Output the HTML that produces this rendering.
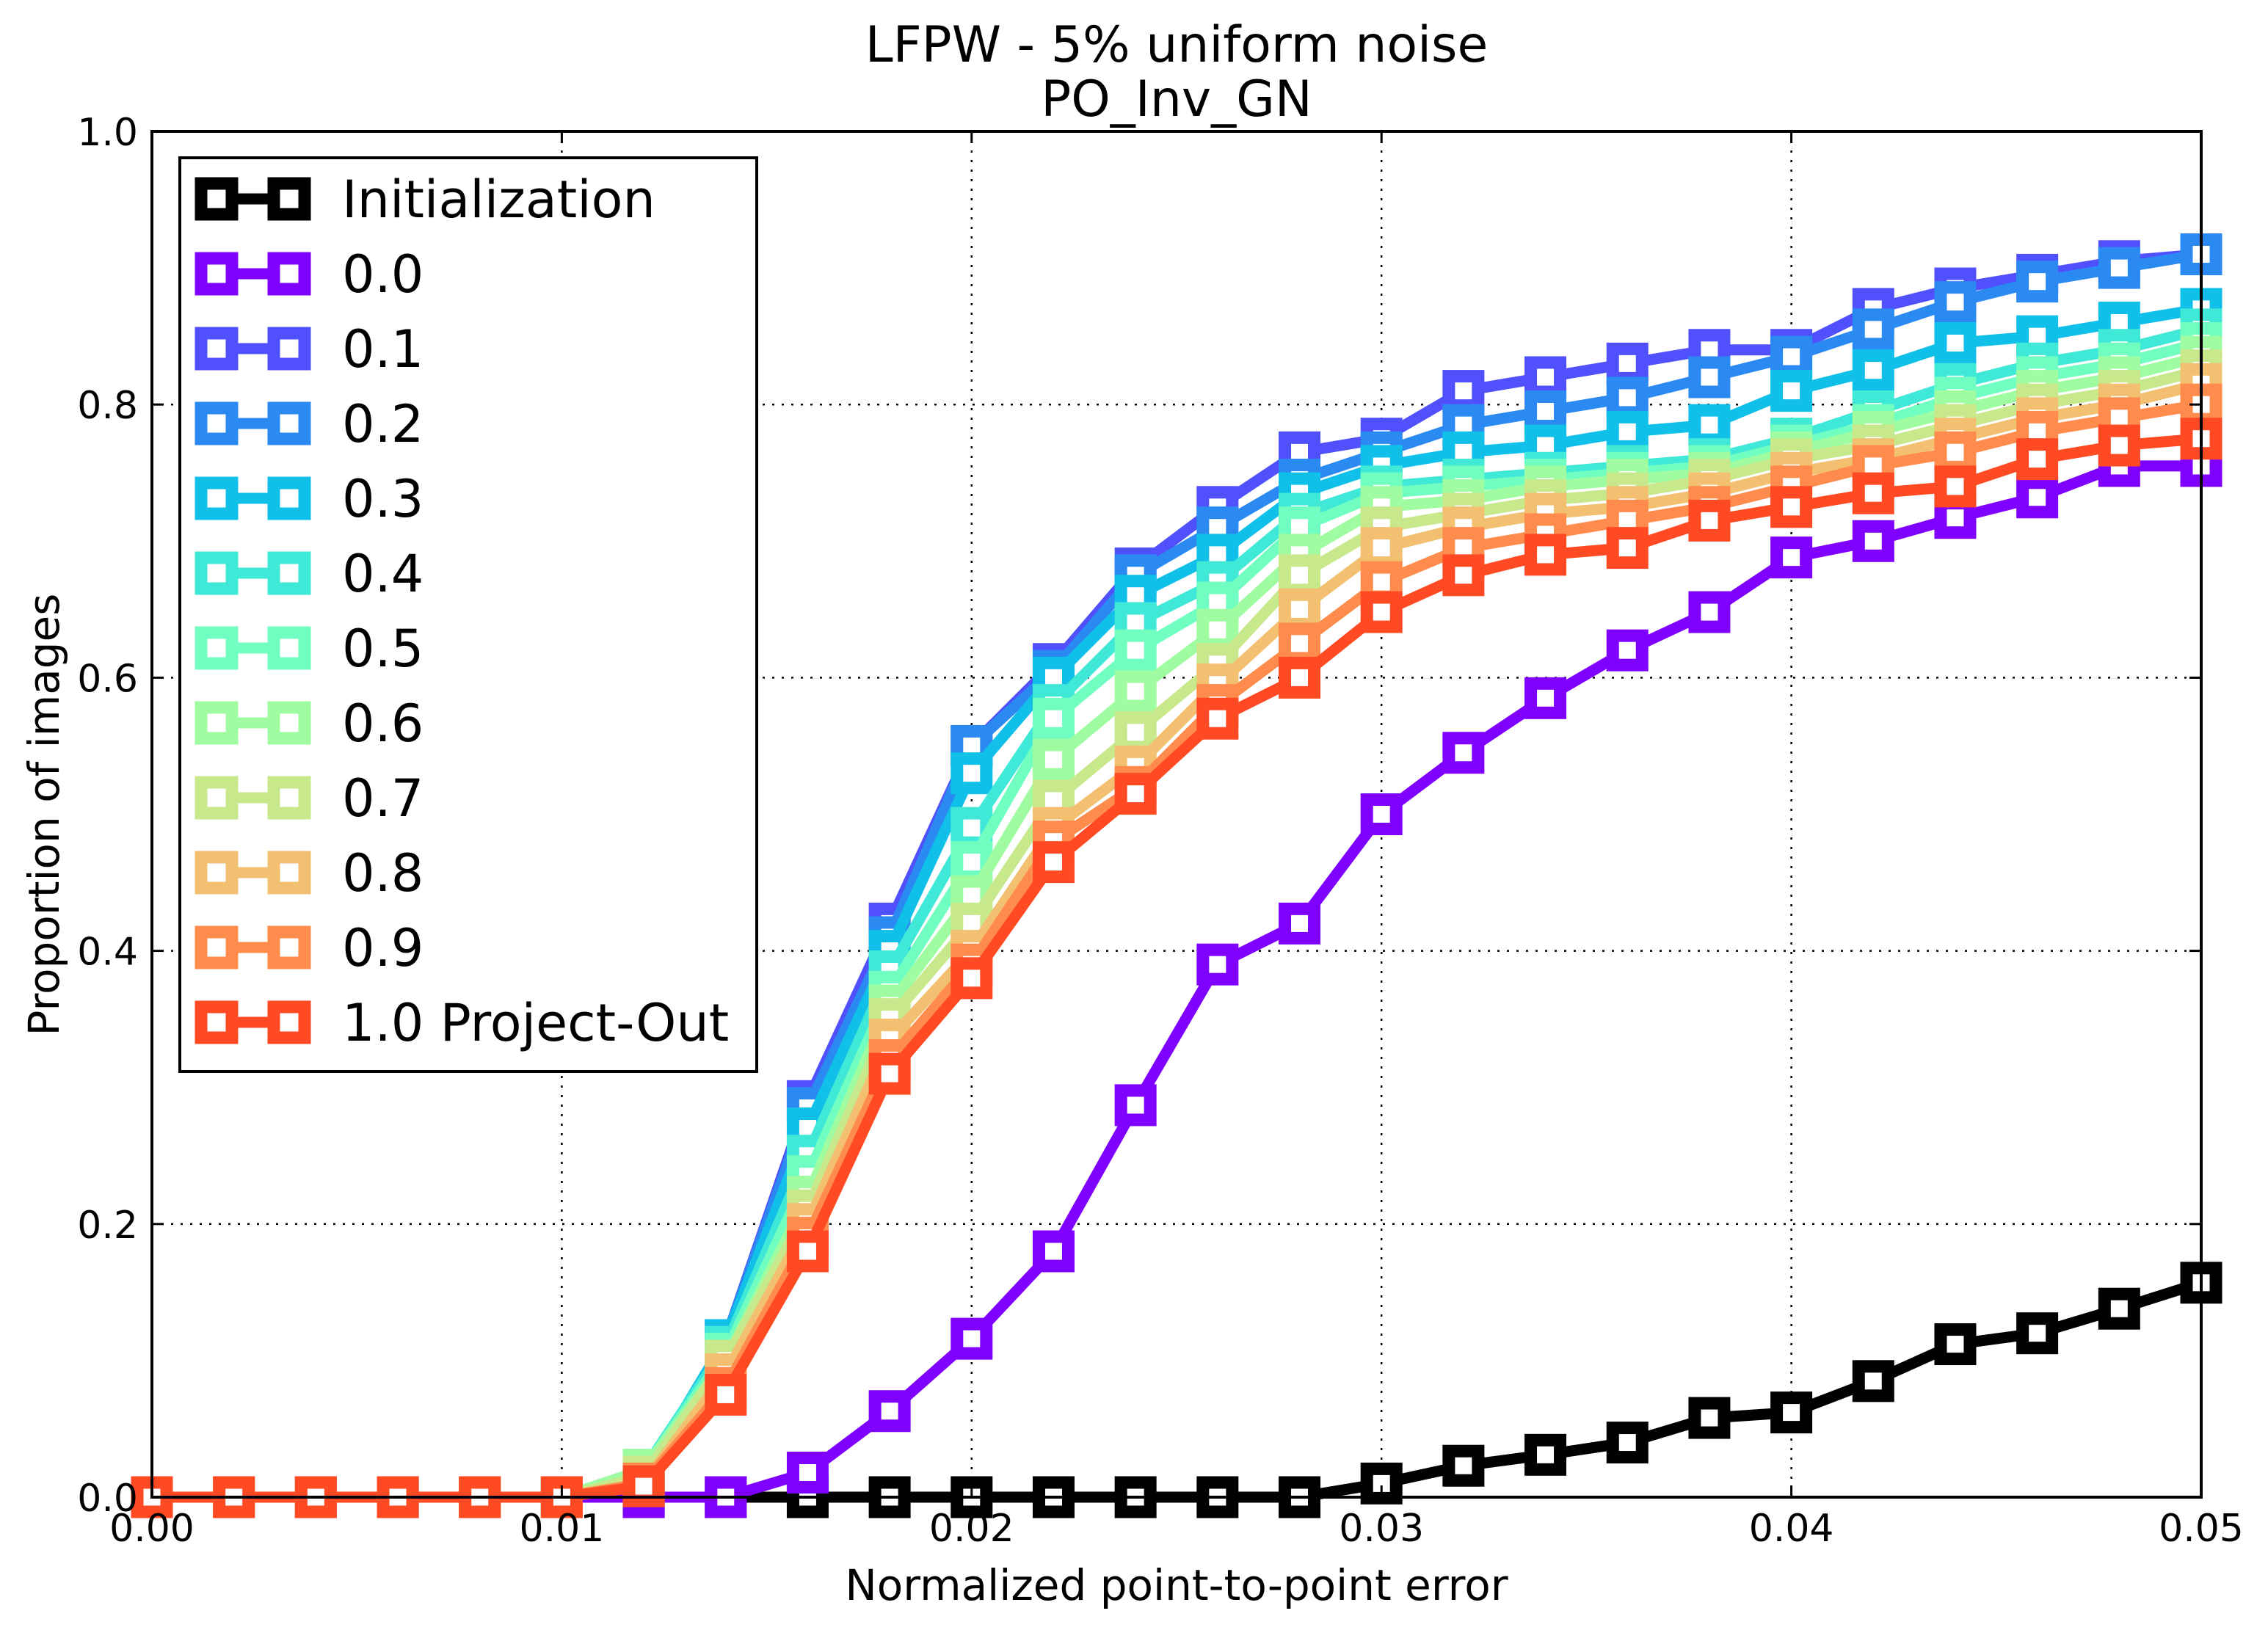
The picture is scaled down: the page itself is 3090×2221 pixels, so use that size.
<!DOCTYPE html>
<html><head><meta charset="utf-8"><style>
html,body{margin:0;padding:0;background:#fff}
svg{display:block}
text{font-family:"DejaVu Sans","Liberation Sans",sans-serif;fill:#000}
</style></head><body>
<svg id="chart" width="3090" height="2221" viewBox="0 0 3090 2221" xmlns="http://www.w3.org/2000/svg">
<rect x="0" y="0" width="3090" height="2221" fill="#fff"/>
<text x="1603" y="84" font-size="68" text-anchor="middle">LFPW - 5% uniform noise</text>
<text x="1603" y="158" font-size="68" text-anchor="middle">PO_Inv_GN</text>
<g id="grid"></g>
<g id="series"></g>
<rect x="207" y="179" width="2792" height="1861" fill="none" stroke="#000" stroke-width="4"/>
<g id="ticks"></g>
<text x="1603" y="2180" font-size="58" text-anchor="middle">Normalized point-to-point error</text>
<text x="0" y="0" font-size="58" text-anchor="middle" transform="translate(80,1110) rotate(-90)">Proportion of images</text>
<g id="legend"></g>
</svg>
<script>
const xValues = [0,0.002,0.004,0.006,0.008,0.010,0.012,0.014,0.016,0.018,0.020,0.022,0.024,0.026,0.028,0.030,0.032,0.034,0.036,0.038,0.040,0.042,0.044,0.046,0.048,0.050];
const xTicks = [0,0.01,0.02,0.03,0.04,0.05];
const xTickLabels = ["0.00","0.01","0.02","0.03","0.04","0.05"];
const yTicks = [0,0.2,0.4,0.6,0.8,1.0];
const yTickLabels = ["0.0","0.2","0.4","0.6","0.8","1.0"];
const seriesNames = ["Initialization","0.0","0.1","0.2","0.3","0.4","0.5","0.6","0.7","0.8","0.9","1.0 Project-Out"];
const seriesColors = ["#000000","#8000ff","#5050fc","#2a8af2","#10c0e8","#40e8d8","#70ffc0","#a0fca0","#c8e88c","#f2c070","#ff8c4c","#ff4a24"];
const sInit = [0,0,0,0,0,0,0,0,0,0,0,0,0,0,0,0.010,0.023,0.031,0.040,0.058,0.062,0.085,0.112,0.120,0.138,0.157];
const s00 = [0,0,0,0,0,0,0,0,0.018,0.063,0.116,0.180,0.287,0.390,0.420,0.500,0.545,0.585,0.620,0.648,0.688,0.700,0.717,0.732,0.755,0.755];
const s01 = [0,0,0,0,0,0,0.010,0.115,0.290,0.420,0.550,0.610,0.680,0.725,0.765,0.775,0.810,0.820,0.830,0.840,0.840,0.870,0.885,0.895,0.905,0.910];
const s02 = [0,0,0,0,0,0,0.010,0.115,0.285,0.410,0.550,0.605,0.675,0.710,0.745,0.765,0.785,0.795,0.805,0.820,0.835,0.855,0.875,0.890,0.900,0.910];
const s03 = [0,0,0,0,0,0,0.015,0.115,0.270,0.400,0.530,0.600,0.660,0.690,0.735,0.755,0.765,0.770,0.780,0.785,0.810,0.825,0.845,0.850,0.860,0.870];
const s04 = [0,0,0,0,0,0,0.020,0.110,0.250,0.385,0.490,0.580,0.640,0.670,0.720,0.740,0.745,0.750,0.755,0.760,0.775,0.795,0.815,0.830,0.840,0.855];
const s05 = [0,0,0,0,0,0,0.020,0.105,0.235,0.370,0.465,0.570,0.620,0.655,0.710,0.735,0.740,0.745,0.750,0.755,0.770,0.785,0.805,0.820,0.830,0.845];
const s06 = [0,0,0,0,0,0,0.020,0.100,0.220,0.360,0.440,0.540,0.590,0.635,0.690,0.725,0.730,0.740,0.745,0.750,0.765,0.780,0.795,0.810,0.820,0.835];
const s07 = [0,0,0,0,0,0,0.015,0.100,0.210,0.350,0.420,0.510,0.560,0.610,0.675,0.710,0.720,0.730,0.735,0.745,0.760,0.770,0.785,0.800,0.810,0.825];
const s08 = [0,0,0,0,0,0,0.010,0.090,0.200,0.335,0.400,0.490,0.535,0.595,0.650,0.695,0.710,0.720,0.725,0.735,0.750,0.760,0.775,0.790,0.800,0.815];
const s09 = [0,0,0,0,0,0,0.010,0.080,0.190,0.320,0.390,0.480,0.520,0.580,0.625,0.670,0.695,0.705,0.715,0.725,0.740,0.755,0.765,0.780,0.790,0.800];
const s10 = [0,0,0,0,0,0,0.008,0.075,0.180,0.310,0.380,0.465,0.515,0.570,0.600,0.648,0.675,0.690,0.695,0.715,0.725,0.735,0.740,0.760,0.770,0.775];
const allSeries = [sInit,s00,s01,s02,s03,s04,s05,s06,s07,s08,s09,s10];

const NS = "http://www.w3.org/2000/svg";
const L = 207, R = 2999, T = 179, B = 2040;
function xs(v){ return L + (v - 0) / (0.05 - 0) * (R - L); }
function ys(v){ return B - (v - 0) / (1 - 0) * (B - T); }
function mk(tag, attrs, parent){ const e = document.createElementNS(NS, tag); for (const k in attrs) e.setAttribute(k, attrs[k]); parent.appendChild(e); return e; }

const grid = document.getElementById('grid');
xTicks.forEach((t,i) => {
  if (i > 0 && i < xTicks.length - 1) {
    const g = mk('line', {x1: xs(t), x2: xs(t), y1: T, y2: B, stroke: '#000', 'stroke-width': 2.5, 'stroke-dasharray': '3 10'}, grid);
    
    
  }
});
yTicks.forEach((t,i) => {
  if (i > 0 && i < yTicks.length - 1) {
    const g = mk('line', {x1: L, x2: R, y1: ys(t), y2: ys(t), stroke: '#000', 'stroke-width': 2.5, 'stroke-dasharray': '3 10'}, grid);
    
    
  }
});

const ticks = document.getElementById('ticks');
xTicks.forEach((t,i) => {
  mk('line', {x1: xs(t), x2: xs(t), y1: B, y2: B - 16, stroke: '#000', 'stroke-width': 3}, ticks);
  mk('line', {x1: xs(t), x2: xs(t), y1: T, y2: T + 16, stroke: '#000', 'stroke-width': 3}, ticks);
  const tx = mk('text', {x: xs(t), y: 2100, 'font-size': 52, 'text-anchor': 'middle'}, ticks);
  tx.textContent = xTickLabels[i];
  
  
});
yTicks.forEach((t,i) => {
  mk('line', {x1: L, x2: L + 16, y1: ys(t), y2: ys(t), stroke: '#000', 'stroke-width': 3}, ticks);
  mk('line', {x1: R, x2: R - 16, y1: ys(t), y2: ys(t), stroke: '#000', 'stroke-width': 3}, ticks);
  const tx = mk('text', {x: 188, y: ys(t) + 19, 'font-size': 52, 'text-anchor': 'end'}, ticks);
  tx.textContent = yTickLabels[i];
  
  
});

const sg = document.getElementById('series');
const clip = mk('clipPath', {id: 'plotclip'}, mk('defs', {}, sg));
mk('rect', {x: L - 40, y: T - 40, width: R - L + 80, height: B - T + 80}, clip);
allSeries.forEach((vals, si) => {
  const g = mk('g', {'clip-path': 'url(#plotclip)'}, sg);
  
  
  const pts = vals.map((v,i) => xs(xValues[i]).toFixed(1) + ',' + ys(v).toFixed(1)).join(' ');
  const pl = mk('polyline', {points: pts, fill: 'none', stroke: seriesColors[si], 'stroke-width': 15, 'stroke-linejoin': 'miter'}, g);
  
  
  vals.forEach((v,i) => {
    const m = mk('rect', {x: xs(xValues[i]) - 20, y: ys(v) - 20, width: 40, height: 40, fill: '#fff', stroke: seriesColors[si], 'stroke-width': 17}, g);
    
    
  });
});

const lg = document.getElementById('legend');
const lb = mk('rect', {x: 245, y: 215, width: 786, height: 1245, fill: '#fff', stroke: '#000', 'stroke-width': 4}, lg);


seriesNames.forEach((n, si) => {
  const cy = 271 + si * 102;
  const e = mk('g', {}, lg);
  
  
  mk('line', {x1: 295, x2: 394, y1: cy, y2: cy, stroke: seriesColors[si], 'stroke-width': 15}, e);
  mk('rect', {x: 295 - 21, y: cy - 21, width: 42, height: 42, fill: '#fff', stroke: seriesColors[si], 'stroke-width': 17}, e);
  mk('rect', {x: 394 - 21, y: cy - 21, width: 42, height: 42, fill: '#fff', stroke: seriesColors[si], 'stroke-width': 17}, e);
  const t = mk('text', {x: 466, y: cy + 25, 'font-size': 70}, e);
  t.textContent = n;
  
  
});
</script>
</body></html>
